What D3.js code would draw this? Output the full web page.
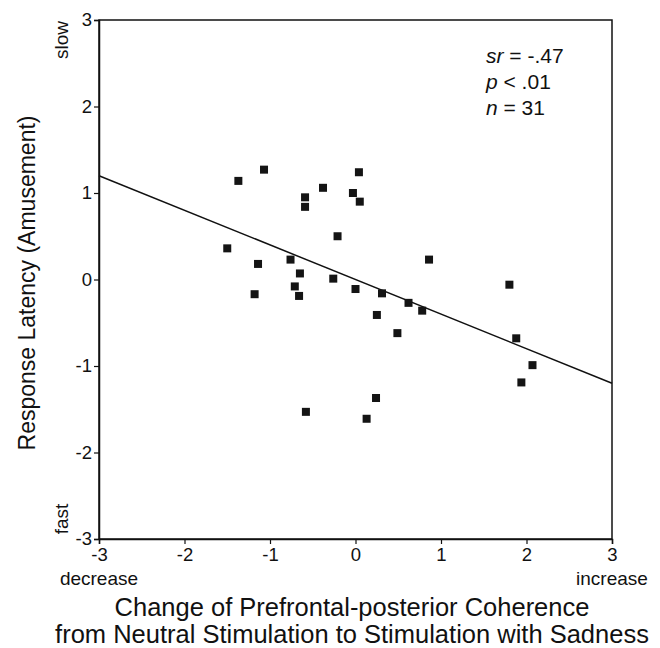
<!DOCTYPE html>
<html>
<head>
<meta charset="utf-8">
<script src="https://cdn.jsdelivr.net/npm/d3@7"></script>
<style>
  body { margin: 0; background: #fff; }
  text { font-family: "Liberation Sans", Arial, sans-serif; fill: #111; }
</style>
</head>
<body>
<svg id="chart" width="660" height="648"></svg>
<script>
// coherence change (x) and response latency (y)
const coherence = [-1.37, -1.07, 0.04, -0.38, -0.59, -0.03, 0.05, -0.59, -0.21, -1.50,
  -1.14, -0.76, 0.86, -0.65, -0.71, -1.18, -0.66, -0.26, 0.00, 0.31,
  0.62, 0.78, 0.25, 0.49, 0.24, -0.58, 0.13, 1.80, 1.88, 2.07, 1.94];
const latency = [1.14, 1.27, 1.24, 1.06, 0.95, 1.00, 0.90, 0.84, 0.50, 0.36,
  0.18, 0.23, 0.23, 0.07, -0.08, -0.17, -0.19, 0.01, -0.11, -0.16,
  -0.27, -0.36, -0.41, -0.62, -1.37, -1.53, -1.61, -0.06, -0.68, -0.99, -1.19];
const fitLine = [[-3, 1.2], [3, -1.2]];
const ticks = [-3, -2, -1, 0, 1, 2, 3];
const stats = [["sr", " = -.47"], ["p", " < .01"], ["n", " = 31"]];

const svg = d3.select("#chart");
const plotL = 99, plotR = 612, plotT = 20, plotB = 539;

const x = d3.scaleLinear().domain([-3, 3]).range([plotL, plotR]);
const y = d3.scaleLinear().domain([-3, 3]).range([plotB, plotT]);

// frame
svg.append("rect")
    .attr("x", plotL).attr("y", plotT)
    .attr("width", plotR - plotL).attr("height", plotB - plotT)
    .attr("fill", "none").attr("stroke", "#111").attr("stroke-width", 1.5);

const xAxis = svg.append("g")
    .attr("transform", `translate(0,${plotB})`)
    .call(d3.axisBottom(x).tickValues(ticks).tickSize(5).tickPadding(4));
const yAxis = svg.append("g")
    .attr("transform", `translate(${plotL},0)`)
    .call(d3.axisLeft(y).tickValues(ticks).tickSize(5).tickPadding(2));

[xAxis, yAxis].forEach(a => {
    a.select(".domain").attr("stroke", "#111").attr("stroke-width", 1.5);
    a.selectAll(".tick line").attr("stroke", "#111").attr("stroke-width", 1.2);
    a.selectAll(".tick text").style("font-size", "18.5px").attr("fill", "#111")
        .style("font-family", '"Liberation Sans", Arial, sans-serif');
});
// the minus signs are plain hyphens in the original
xAxis.selectAll(".tick text").text(d => String(d));
yAxis.selectAll(".tick text").text(d => String(d));

// regression line
svg.append("line")
    .attr("x1", x(fitLine[0][0])).attr("y1", y(fitLine[0][1]))
    .attr("x2", x(fitLine[1][0])).attr("y2", y(fitLine[1][1]))
    .attr("stroke", "#111").attr("stroke-width", 1.5);

// points
const size = 8;
svg.selectAll(".pt")
    .data(coherence.map((c, i) => [c, latency[i]]))
    .enter().append("rect")
    .attr("class", "pt")
    .attr("x", d => x(d[0]) - size / 2)
    .attr("y", d => y(d[1]) - size / 2)
    .attr("width", size).attr("height", size)
    .attr("fill", "#141414");

// stats block
stats.forEach((s, i) => {
    const t = svg.append("text")
        .attr("x", 486).attr("y", 63 + i * 26)
        .style("font-size", "21px");
    t.append("tspan").style("font-style", "italic").text(s[0]);
    t.append("tspan").text(s[1]);
});

// y labels
svg.append("text")
    .attr("transform", `translate(68,40) rotate(-90)`)
    .attr("text-anchor", "middle")
    .style("font-size", "19px")
    .text("slow");
svg.append("text")
    .attr("transform", `translate(68,519) rotate(-90)`)
    .attr("text-anchor", "middle")
    .style("font-size", "19px")
    .text("fast");
svg.append("text")
    .attr("transform", `translate(35,283) rotate(-90)`)
    .attr("text-anchor", "middle")
    .style("font-size", "23px")
    .text("Response Latency (Amusement)");

// x labels
svg.append("text")
    .attr("x", plotL).attr("y", 585)
    .attr("text-anchor", "middle")
    .style("font-size", "19px")
    .text("decrease");
svg.append("text")
    .attr("x", plotR).attr("y", 585)
    .attr("text-anchor", "middle")
    .style("font-size", "19px")
    .text("increase");
svg.append("text")
    .attr("x", 352).attr("y", 616)
    .attr("text-anchor", "middle")
    .style("font-size", "25.5px")
    .text("Change of Prefrontal-posterior Coherence");
svg.append("text")
    .attr("x", 352).attr("y", 643)
    .attr("text-anchor", "middle")
    .style("font-size", "25.5px")
    .text("from Neutral Stimulation to Stimulation with Sadness");
</script>
</body>
</html>
